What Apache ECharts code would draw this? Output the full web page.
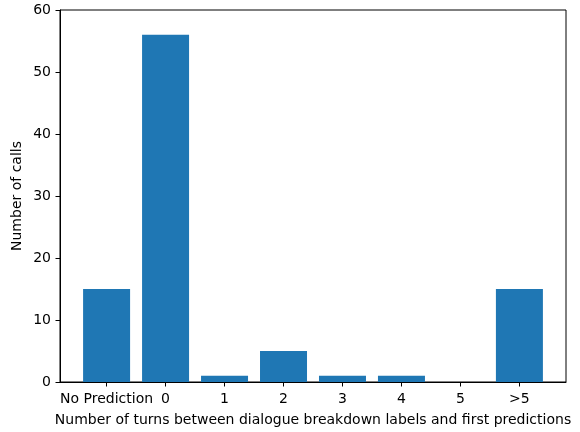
<!DOCTYPE html>
<html>
<head>
<meta charset="utf-8">
<script src="https://cdn.jsdelivr.net/npm/echarts@6/dist/echarts.min.js"></script>
<style>html,body{margin:0;padding:0;background:#fff}#c{width:580px;height:432px}</style>
</head>
<body>
<div id="c"></div>
<script>
const categories = ["No Prediction", "0", "1", "2", "3", "4", "5", ">5"];
const counts = [15, 56, 1, 5, 1, 1, 0, 15];
const yTicks = [0, 10, 20, 30, 40, 50, 60];

const positions = categories.map((_, i) => i);
const font = "DejaVu Sans";
const fs = 14;
const chart = echarts.init(document.getElementById('c'), null, {renderer: 'canvas'});
chart.setOption({
  animation: false,
  backgroundColor: '#ffffff',
  textStyle: {fontFamily: font},
  grid: {left: 60, right: 14, top: 10, bottom: 45, show: true, borderColor: '#000', borderWidth: 1, backgroundColor: 'transparent'},
  xAxis: {
    type: 'value',
    min: -0.79, max: 7.79,
    name: 'Number of turns between dialogue breakdown labels and first predictions',
    nameLocation: 'middle', nameGap: 31, nameMoveOverlap: false,
    nameTextStyle: {fontFamily: font, fontSize: fs, color: '#000'},
    splitLine: {show: false},
    axisLine: {show: true, onZero: false, lineStyle: {color: '#000', width: 1}},
    axisTick: {show: true, customValues: positions, length: 4.5, inside: false, lineStyle: {color: '#000'}},
    axisLabel: {customValues: positions, formatter: v => categories[Math.round(v)], fontFamily: font, fontSize: fs, color: '#000', margin: 10}
  },
  yAxis: {
    type: 'value',
    min: 0, max: 60, interval: 10,
    name: 'Number of calls',
    nameLocation: 'middle', nameGap: 36, nameMoveOverlap: false,
    nameTextStyle: {fontFamily: font, fontSize: fs, color: '#000'},
    splitLine: {show: false},
    axisLine: {show: true, onZero: false, lineStyle: {color: '#000', width: 1}},
    axisTick: {show: true, length: 4.5, lineStyle: {color: '#000'}},
    axisLabel: {fontFamily: font, fontSize: fs, color: '#000', margin: 9,
      formatter: v => yTicks.includes(v) ? String(v) : ''}
  },
  series: [{
    type: 'bar',
    data: positions.map((p, i) => [p, counts[i]]),
    barWidth: 47,
    itemStyle: {color: '#1f77b4'}
  }]
});
</script>
</body>
</html>
